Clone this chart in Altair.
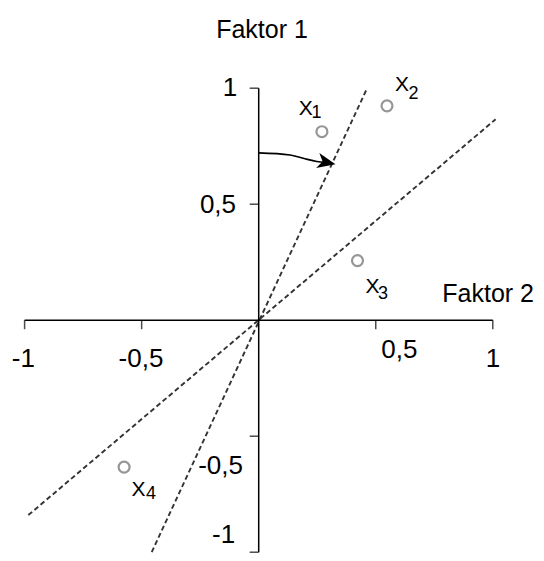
import altair as alt
import pandas as pd

# ---- data ----
tick_vals = [-1, -0.5, 0.5, 1]
x_tick_labels = ["-1", "-0,5", "0,5", "1"]
x_label_x = [-1.005, -0.503, 0.601, 1.001]
x_label_y = [-0.167, -0.167, -0.128, -0.167]
y_tick_labels = ["-1", "-0,5", "0,5", "1"]
y_label_x = [-0.150, -0.163, -0.174, -0.123]
y_label_y = [-0.925, -0.628, 0.497, 1.001]

point_x = [0.270, 0.548, 0.422, -0.575]
point_y = [0.8125, 0.924, 0.257, -0.633]
point_sub = ["1", "2", "3", "4"]
name_x = [0.201, 0.612, 0.486, -0.513]
name_y = [0.9125, 1.012, 0.143, -0.734]
sub_x = [0.247, 0.661, 0.531, -0.460]
sub_y = [0.893, 0.973, 0.115, -0.751]

line_id = ["a", "a", "b", "b"]
line_x = [-0.457, 0.463, -0.984, 1.012]
line_y = [-1.0, 1.0, -0.84, 0.866]

arc_x = [0.0, 0.134, 0.19, 0.248, 0.290]
arc_y = [0.721, 0.712, 0.698, 0.684, 0.680]
head_x = [0.290]
head_y = [0.680]

title_text = ["Faktor 1", "Faktor 2"]
title_x = [0.014, 1.176]
title_y = [1.251, 0.113]

XDOM = [-1.0709, 1.1845]
YDOM = [-1.0034, 1.3457]
FONT = "Liberation Sans, Arial, sans-serif"


def X(f):
    return alt.X(f, type="quantitative", scale=alt.Scale(domain=XDOM, nice=False, zero=False), axis=None)


def Y(f):
    return alt.Y(f, type="quantitative", scale=alt.Scale(domain=YDOM, nice=False, zero=False), axis=None)


axes_df = pd.DataFrame({"x": [-1, 0], "x2": [1, 0], "y": [0, -1], "y2": [0, 1]})
axes = alt.Chart(axes_df).mark_rule(color="black", strokeWidth=1.5).encode(
    x=X("x"), x2="x2", y=Y("y"), y2="y2")

xt_df = pd.DataFrame({"v": tick_vals, "z": [0] * 4})
xticks = alt.Chart(xt_df).mark_tick(orient="vertical", size=9, thickness=1.5, yOffset=4.5,
                                     color="black").encode(x=X("v"), y=Y("z"))
yticks = alt.Chart(xt_df).mark_tick(orient="horizontal", size=9, thickness=1.5, xOffset=-4.5,
                                     color="black").encode(x=X("z"), y=Y("v"))

xl_df = pd.DataFrame({"t": x_tick_labels, "x": x_label_x, "y": x_label_y})
xlabels = alt.Chart(xl_df).mark_text(font=FONT, fontSize=26, color="black",
                                     baseline="middle", align="center").encode(
    x=X("x"), y=Y("y"), text="t")
yl_df = pd.DataFrame({"t": y_tick_labels, "x": y_label_x, "y": y_label_y})
ylabels = alt.Chart(yl_df).mark_text(font=FONT, fontSize=26, color="black",
                                     baseline="middle", align="center").encode(
    x=X("x"), y=Y("y"), text="t")

ln_df = pd.DataFrame({"id": line_id, "x": line_x, "y": line_y})
lines = alt.Chart(ln_df).mark_line(color="#333333", strokeWidth=1.9, strokeDash=[5, 3]).encode(
    x=X("x"), y=Y("y"), detail="id")

pt_df = pd.DataFrame({"x": point_x, "y": point_y})
points = alt.Chart(pt_df).mark_point(shape="circle", filled=False, stroke="#6a6a6a",
                                     strokeWidth=2.2, size=120).encode(x=X("x"), y=Y("y"))

nm_df = pd.DataFrame({"t": ["X"] * 4, "x": name_x, "y": name_y})
names = alt.Chart(nm_df).mark_text(font=FONT, fontSize=21, color="black",
                                   baseline="middle", align="center").encode(
    x=X("x"), y=Y("y"), text="t")
sb_df = pd.DataFrame({"t": point_sub, "x": sub_x, "y": sub_y})
subs = alt.Chart(sb_df).mark_text(font=FONT, fontSize=18, color="black",
                                  baseline="middle", align="center").encode(
    x=X("x"), y=Y("y"), text="t")

arc_df = pd.DataFrame({"x": arc_x, "y": arc_y, "o": list(range(len(arc_x)))})
arc = alt.Chart(arc_df).mark_line(color="black", strokeWidth=1.7, interpolate="monotone").encode(
    x=X("x"), y=Y("y"), order="o")
hd_df = pd.DataFrame({"x": head_x, "y": head_y})
head = alt.Chart(hd_df).mark_point(shape="M-1,-0.85L1,0L-1,0.85L-0.45,0Z", filled=True, color="black",
                                   opacity=1, size=330, angle=12).encode(x=X("x"), y=Y("y"))

tt_df = pd.DataFrame({"t": title_text, "x": title_x, "y": title_y})
title1 = alt.Chart(tt_df.iloc[[0]]).mark_text(font=FONT, fontSize=25, color="black",
                                               baseline="middle", align="center").encode(
    x=X("x"), y=Y("y"), text="t")
title2 = alt.Chart(tt_df.iloc[[1]]).mark_text(font=FONT, fontSize=25, color="black",
                                               baseline="middle", align="right").encode(
    x=X("x"), y=Y("y"), text="t")

chart = alt.layer(lines, axes, xticks, yticks, arc, head, points, names, subs,
                  xlabels, ylabels, title1, title2).properties(
    width=528, height=545, padding=0,
    autosize=alt.AutoSizeParams(type="none"),
    background="white",
).configure_view(stroke=None)

chart.save("out.html", embed_options={"renderer": "svg", "actions": False})
